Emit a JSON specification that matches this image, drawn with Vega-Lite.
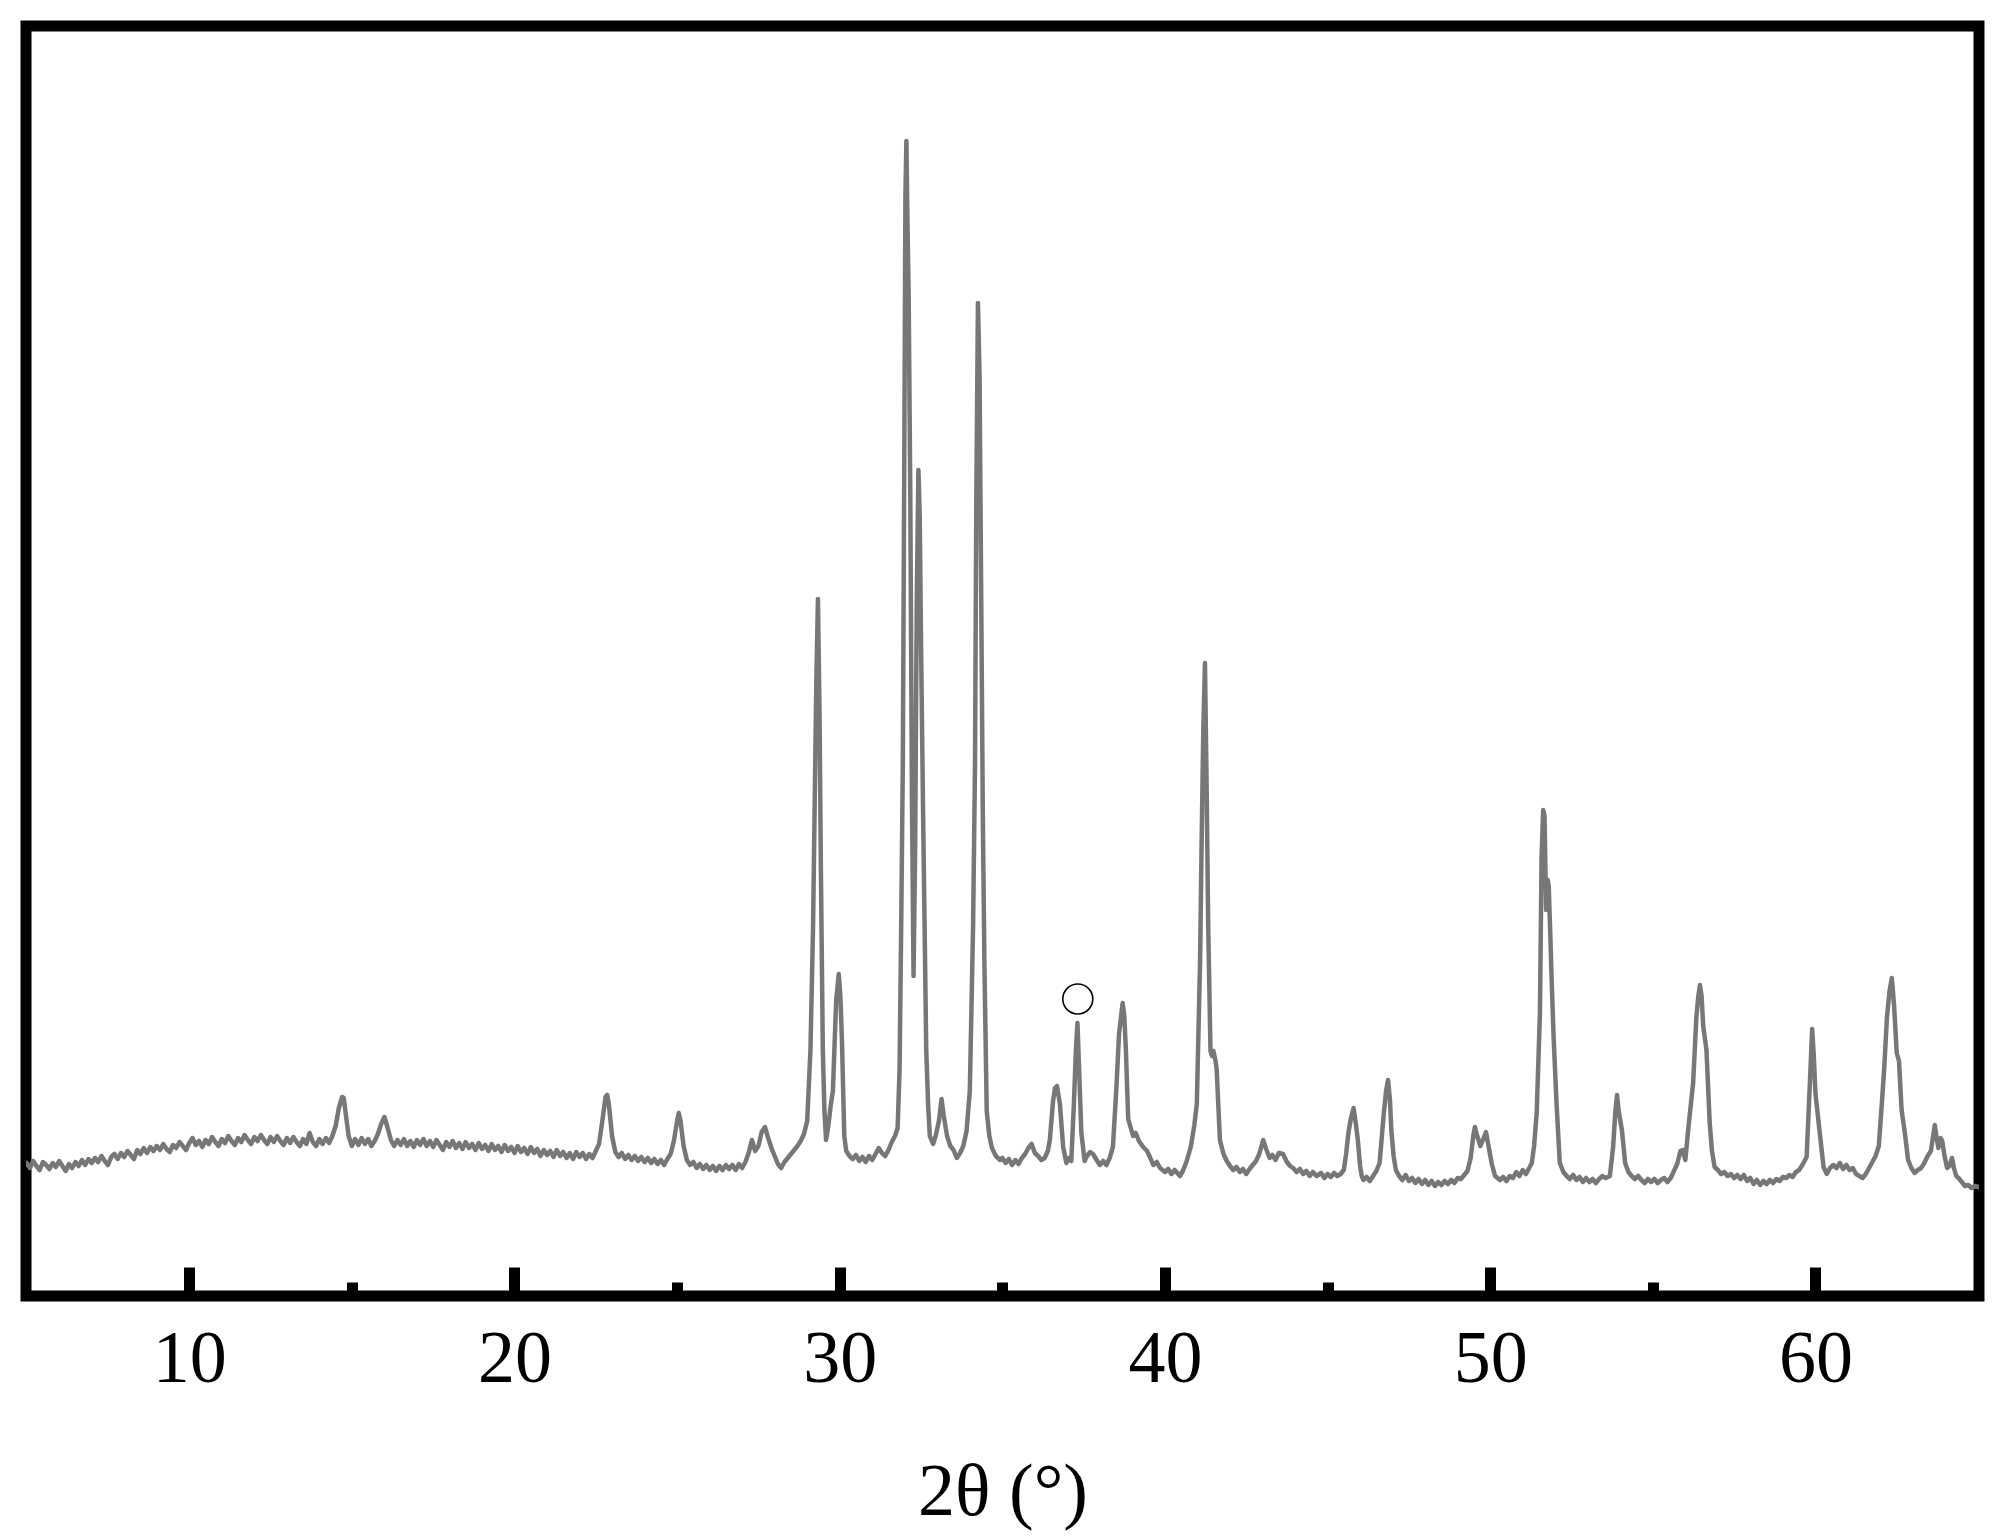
{
  "$schema": "https://vega.github.io/schema/vega-lite/v6.json",
  "autosize": {"type": "none"},
  "padding": {"left": 26, "top": 26, "right": 29, "bottom": 243},
  "width": 1953,
  "height": 1270,
  "background": "white",
  "config": {"view": {"stroke": "black", "strokeWidth": 11}},
  "datasets": {
    "xrd": [
{"t":5.0,"i":133},{"t":5.1,"i":128},{"t":5.2,"i":135},{"t":5.3,"i":130},{"t":5.4,"i":126},{"t":5.5,"i":134},{"t":5.6,"i":131},{"t":5.7,"i":127},{"t":5.8,"i":133},{"t":5.9,"i":129},
{"t":6.0,"i":135},{"t":6.1,"i":130},{"t":6.2,"i":125},{"t":6.3,"i":132},{"t":6.4,"i":128},{"t":6.5,"i":134},{"t":6.6,"i":130},{"t":6.7,"i":136},{"t":6.8,"i":131},{"t":6.9,"i":137},
{"t":7.0,"i":133},{"t":7.1,"i":138},{"t":7.2,"i":134},{"t":7.3,"i":140},{"t":7.4,"i":135},{"t":7.5,"i":131},{"t":7.6,"i":139},{"t":7.7,"i":142},{"t":7.8,"i":137},{"t":7.9,"i":143},
{"t":8.0,"i":139},{"t":8.1,"i":145},{"t":8.2,"i":141},{"t":8.3,"i":137},{"t":8.4,"i":146},{"t":8.5,"i":142},{"t":8.6,"i":148},{"t":8.7,"i":143},{"t":8.8,"i":149},{"t":8.9,"i":145},
{"t":9.0,"i":150},{"t":9.1,"i":146},{"t":9.2,"i":152},{"t":9.3,"i":147},{"t":9.4,"i":144},{"t":9.5,"i":151},{"t":9.6,"i":148},{"t":9.7,"i":154},{"t":9.8,"i":150},{"t":9.9,"i":146},
{"t":10.0,"i":153},{"t":10.1,"i":158},{"t":10.2,"i":151},{"t":10.3,"i":155},{"t":10.4,"i":149},{"t":10.5,"i":156},{"t":10.6,"i":152},{"t":10.7,"i":159},{"t":10.8,"i":154},{"t":10.9,"i":150},
{"t":11.0,"i":157},{"t":11.1,"i":153},{"t":11.2,"i":160},{"t":11.3,"i":155},{"t":11.4,"i":151},{"t":11.5,"i":158},{"t":11.6,"i":154},{"t":11.7,"i":161},{"t":11.8,"i":156},{"t":11.9,"i":152},
{"t":12.0,"i":159},{"t":12.1,"i":155},{"t":12.2,"i":161},{"t":12.3,"i":156},{"t":12.4,"i":152},{"t":12.5,"i":159},{"t":12.6,"i":154},{"t":12.7,"i":160},{"t":12.8,"i":155},{"t":12.9,"i":151},
{"t":13.0,"i":158},{"t":13.1,"i":153},{"t":13.2,"i":159},{"t":13.3,"i":154},{"t":13.4,"i":150},{"t":13.5,"i":157},{"t":13.6,"i":152},{"t":13.7,"i":163},{"t":13.8,"i":154},{"t":13.9,"i":150},
{"t":14.0,"i":157},{"t":14.1,"i":152},{"t":14.2,"i":158},{"t":14.3,"i":153},{"t":14.4,"i":160},{"t":14.5,"i":170},{"t":14.6,"i":188},{"t":14.7,"i":199},{"t":14.75,"i":198},{"t":14.8,"i":185},{"t":14.9,"i":160},
{"t":15.0,"i":150},{"t":15.1,"i":157},{"t":15.2,"i":151},{"t":15.3,"i":158},{"t":15.4,"i":152},{"t":15.5,"i":157},{"t":15.6,"i":150},{"t":15.7,"i":155},{"t":15.8,"i":162},{"t":15.9,"i":172},
{"t":16.0,"i":179},{"t":16.1,"i":168},{"t":16.2,"i":156},{"t":16.3,"i":150},{"t":16.4,"i":156},{"t":16.5,"i":151},{"t":16.6,"i":157},{"t":16.7,"i":150},{"t":16.8,"i":155},{"t":16.9,"i":149},
{"t":17.0,"i":156},{"t":17.1,"i":151},{"t":17.2,"i":157},{"t":17.3,"i":150},{"t":17.4,"i":155},{"t":17.5,"i":149},{"t":17.6,"i":156},{"t":17.7,"i":151},{"t":17.8,"i":146},{"t":17.9,"i":154},
{"t":18.0,"i":149},{"t":18.1,"i":155},{"t":18.2,"i":148},{"t":18.3,"i":153},{"t":18.4,"i":147},{"t":18.5,"i":154},{"t":18.6,"i":148},{"t":18.7,"i":152},{"t":18.8,"i":146},{"t":18.9,"i":153},
{"t":19.0,"i":147},{"t":19.1,"i":151},{"t":19.2,"i":145},{"t":19.3,"i":152},{"t":19.4,"i":146},{"t":19.5,"i":150},{"t":19.6,"i":144},{"t":19.7,"i":151},{"t":19.8,"i":145},{"t":19.9,"i":149},
{"t":20.0,"i":143},{"t":20.1,"i":150},{"t":20.2,"i":144},{"t":20.3,"i":148},{"t":20.4,"i":142},{"t":20.5,"i":149},{"t":20.6,"i":143},{"t":20.7,"i":147},{"t":20.8,"i":140},{"t":20.9,"i":146},
{"t":21.0,"i":141},{"t":21.1,"i":145},{"t":21.2,"i":139},{"t":21.3,"i":146},{"t":21.4,"i":140},{"t":21.5,"i":144},{"t":21.6,"i":138},{"t":21.7,"i":143},{"t":21.8,"i":137},{"t":21.9,"i":144},
{"t":22.0,"i":139},{"t":22.1,"i":143},{"t":22.2,"i":137},{"t":22.3,"i":142},{"t":22.4,"i":138},{"t":22.5,"i":145},{"t":22.6,"i":152},{"t":22.7,"i":175},{"t":22.8,"i":199},{"t":22.85,"i":201},{"t":22.9,"i":192},
{"t":23.0,"i":160},{"t":23.1,"i":144},{"t":23.2,"i":139},{"t":23.3,"i":143},{"t":23.4,"i":137},{"t":23.5,"i":141},{"t":23.6,"i":136},{"t":23.7,"i":140},{"t":23.8,"i":135},{"t":23.9,"i":139},
{"t":24.0,"i":134},{"t":24.1,"i":138},{"t":24.2,"i":133},{"t":24.3,"i":137},{"t":24.4,"i":132},{"t":24.5,"i":136},{"t":24.6,"i":131},{"t":24.7,"i":137},{"t":24.8,"i":142},{"t":24.9,"i":155},
{"t":25.0,"i":175},{"t":25.05,"i":183},{"t":25.1,"i":176},{"t":25.2,"i":150},{"t":25.3,"i":136},{"t":25.4,"i":131},{"t":25.5,"i":134},{"t":25.6,"i":128},{"t":25.7,"i":132},{"t":25.8,"i":127},{"t":25.9,"i":131},
{"t":26.0,"i":126},{"t":26.1,"i":130},{"t":26.2,"i":125},{"t":26.3,"i":130},{"t":26.4,"i":126},{"t":26.5,"i":131},{"t":26.6,"i":127},{"t":26.7,"i":131},{"t":26.8,"i":126},{"t":26.9,"i":132},
{"t":27.0,"i":128},{"t":27.1,"i":134},{"t":27.2,"i":143},{"t":27.3,"i":156},{"t":27.4,"i":145},{"t":27.5,"i":150},{"t":27.6,"i":164},{"t":27.7,"i":169},{"t":27.8,"i":158},{"t":27.9,"i":148},
{"t":28.0,"i":140},{"t":28.1,"i":132},{"t":28.2,"i":128},{"t":28.3,"i":134},{"t":28.4,"i":138},{"t":28.5,"i":142},{"t":28.6,"i":146},{"t":28.7,"i":150},{"t":28.8,"i":155},{"t":28.9,"i":162},
{"t":29.0,"i":175},{"t":29.1,"i":246},{"t":29.18,"i":369},{"t":29.23,"i":491},{"t":29.28,"i":614},{"t":29.33,"i":697},{"t":29.38,"i":581},{"t":29.42,"i":430},{"t":29.48,"i":246},{"t":29.53,"i":185},
{"t":29.58,"i":156},{"t":29.65,"i":170},{"t":29.72,"i":190},{"t":29.79,"i":205},{"t":29.89,"i":295},{"t":29.97,"i":322},{"t":30.02,"i":300},{"t":30.07,"i":254},{"t":30.14,"i":160},{"t":30.2,"i":145},
{"t":30.3,"i":140},{"t":30.4,"i":137},{"t":30.5,"i":141},{"t":30.6,"i":135},{"t":30.7,"i":139},{"t":30.8,"i":134},{"t":30.9,"i":140},{"t":31.0,"i":136},{"t":31.1,"i":142},{"t":31.2,"i":148},
{"t":31.3,"i":143},{"t":31.4,"i":140},{"t":31.5,"i":146},{"t":31.6,"i":154},{"t":31.7,"i":160},{"t":31.78,"i":168},{"t":31.84,"i":226},{"t":31.89,"i":369},{"t":31.94,"i":532},{"t":31.98,"i":800},
{"t":32.02,"i":1100},{"t":32.05,"i":1155},{"t":32.08,"i":1080},{"t":32.12,"i":1000},{"t":32.17,"i":800},{"t":32.22,"i":500},{"t":32.27,"i":320},{"t":32.32,"i":450},{"t":32.37,"i":700},{"t":32.42,"i":826},
{"t":32.46,"i":780},{"t":32.5,"i":654},{"t":32.56,"i":491},{"t":32.61,"i":369},{"t":32.66,"i":246},{"t":32.72,"i":190},{"t":32.77,"i":160},{"t":32.87,"i":152},{"t":32.95,"i":160},{"t":33.05,"i":175},
{"t":33.13,"i":197},{"t":33.2,"i":180},{"t":33.3,"i":160},{"t":33.4,"i":150},{"t":33.5,"i":146},{"t":33.6,"i":138},{"t":33.7,"i":143},{"t":33.8,"i":150},{"t":33.9,"i":165},{"t":34.0,"i":205},
{"t":34.1,"i":369},{"t":34.16,"i":532},{"t":34.2,"i":800},{"t":34.25,"i":993},{"t":34.3,"i":920},{"t":34.35,"i":700},{"t":34.4,"i":480},{"t":34.45,"i":330},{"t":34.52,"i":185},{"t":34.6,"i":160},
{"t":34.68,"i":148},{"t":34.8,"i":140},{"t":34.93,"i":136},{"t":35.0,"i":138},{"t":35.1,"i":133},{"t":35.2,"i":137},{"t":35.3,"i":131},{"t":35.4,"i":136},{"t":35.5,"i":132},{"t":35.6,"i":138},
{"t":35.7,"i":142},{"t":35.8,"i":148},{"t":35.9,"i":152},{"t":36.0,"i":143},{"t":36.1,"i":140},{"t":36.2,"i":136},{"t":36.3,"i":138},{"t":36.4,"i":145},{"t":36.46,"i":156},{"t":36.56,"i":195},
{"t":36.62,"i":208},{"t":36.68,"i":210},{"t":36.77,"i":192},{"t":36.87,"i":149},{"t":36.97,"i":133},{"t":37.05,"i":138},{"t":37.12,"i":135},{"t":37.2,"i":192},{"t":37.26,"i":245},{"t":37.31,"i":273},
{"t":37.36,"i":227},{"t":37.43,"i":163},{"t":37.53,"i":135},{"t":37.6,"i":140},{"t":37.7,"i":144},{"t":37.79,"i":142},{"t":37.9,"i":136},{"t":38.0,"i":131},{"t":38.1,"i":135},{"t":38.2,"i":131},
{"t":38.3,"i":138},{"t":38.4,"i":149},{"t":38.51,"i":210},{"t":38.59,"i":263},{"t":38.7,"i":293},{"t":38.75,"i":280},{"t":38.8,"i":245},{"t":38.87,"i":177},{"t":38.95,"i":168},{"t":39.02,"i":160},
{"t":39.1,"i":163},{"t":39.2,"i":155},{"t":39.33,"i":149},{"t":39.45,"i":145},{"t":39.55,"i":138},{"t":39.64,"i":131},{"t":39.75,"i":134},{"t":39.85,"i":128},{"t":40.0,"i":124},{"t":40.1,"i":127},
{"t":40.2,"i":122},{"t":40.3,"i":126},{"t":40.46,"i":120},{"t":40.55,"i":125},{"t":40.67,"i":135},{"t":40.8,"i":150},{"t":40.9,"i":170},{"t":40.98,"i":192},{"t":41.08,"i":335},{"t":41.13,"i":460},
{"t":41.18,"i":567},{"t":41.23,"i":633},{"t":41.28,"i":513},{"t":41.33,"i":371},{"t":41.4,"i":245},{"t":41.45,"i":240},{"t":41.49,"i":245},{"t":41.55,"i":236},{"t":41.59,"i":227},{"t":41.69,"i":156},
{"t":41.8,"i":142},{"t":41.9,"i":135},{"t":42.0,"i":130},{"t":42.1,"i":126},{"t":42.2,"i":129},{"t":42.3,"i":124},{"t":42.4,"i":127},{"t":42.5,"i":122},{"t":42.6,"i":127},{"t":42.7,"i":131},
{"t":42.8,"i":135},{"t":42.9,"i":142},{"t":43.02,"i":156},{"t":43.1,"i":148},{"t":43.22,"i":138},{"t":43.3,"i":141},{"t":43.4,"i":136},{"t":43.5,"i":143},{"t":43.63,"i":142},{"t":43.75,"i":134},
{"t":43.85,"i":130},{"t":43.94,"i":128},{"t":44.05,"i":124},{"t":44.15,"i":127},{"t":44.25,"i":122},{"t":44.35,"i":125},{"t":44.45,"i":120},{"t":44.55,"i":124},{"t":44.66,"i":120},{"t":44.8,"i":123},
{"t":44.9,"i":118},{"t":45.0,"i":122},{"t":45.1,"i":119},{"t":45.2,"i":123},{"t":45.3,"i":120},{"t":45.4,"i":122},{"t":45.5,"i":126},{"t":45.57,"i":142},{"t":45.64,"i":163},{"t":45.72,"i":178},
{"t":45.8,"i":188},{"t":45.87,"i":172},{"t":45.93,"i":156},{"t":46.0,"i":130},{"t":46.05,"i":120},{"t":46.1,"i":116},{"t":46.2,"i":119},{"t":46.3,"i":115},{"t":46.4,"i":120},{"t":46.5,"i":125},
{"t":46.6,"i":133},{"t":46.73,"i":183},{"t":46.8,"i":205},{"t":46.86,"i":216},{"t":46.92,"i":195},{"t":46.96,"i":166},{"t":47.03,"i":140},{"t":47.1,"i":126},{"t":47.2,"i":120},{"t":47.3,"i":116},
{"t":47.4,"i":121},{"t":47.5,"i":115},{"t":47.6,"i":118},{"t":47.7,"i":113},{"t":47.8,"i":117},{"t":47.9,"i":112},{"t":48.0,"i":116},{"t":48.1,"i":111},{"t":48.2,"i":115},{"t":48.3,"i":110},
{"t":48.4,"i":114},{"t":48.5,"i":111},{"t":48.6,"i":115},{"t":48.7,"i":112},{"t":48.8,"i":116},{"t":48.9,"i":113},{"t":49.0,"i":118},{"t":49.1,"i":117},{"t":49.2,"i":121},{"t":49.3,"i":125},
{"t":49.4,"i":138},{"t":49.48,"i":160},{"t":49.53,"i":169},{"t":49.6,"i":160},{"t":49.7,"i":150},{"t":49.8,"i":158},{"t":49.87,"i":164},{"t":49.95,"i":150},{"t":50.05,"i":132},{"t":50.15,"i":120},
{"t":50.3,"i":116},{"t":50.4,"i":119},{"t":50.5,"i":115},{"t":50.6,"i":120},{"t":50.7,"i":118},{"t":50.8,"i":124},{"t":50.9,"i":120},{"t":51.0,"i":126},{"t":51.1,"i":122},{"t":51.2,"i":128},
{"t":51.28,"i":133},{"t":51.35,"i":150},{"t":51.43,"i":183},{"t":51.53,"i":283},{"t":51.58,"i":439},{"t":51.63,"i":486},{"t":51.67,"i":480},{"t":51.72,"i":386},{"t":51.77,"i":416},{"t":51.8,"i":410},
{"t":51.85,"i":360},{"t":51.89,"i":316},{"t":51.95,"i":259},{"t":52.04,"i":193},{"t":52.14,"i":133},{"t":52.25,"i":124},{"t":52.35,"i":120},{"t":52.45,"i":117},{"t":52.55,"i":121},{"t":52.65,"i":116},
{"t":52.75,"i":119},{"t":52.85,"i":114},{"t":52.95,"i":118},{"t":53.05,"i":114},{"t":53.15,"i":117},{"t":53.25,"i":113},{"t":53.35,"i":117},{"t":53.45,"i":120},{"t":53.55,"i":118},{"t":53.68,"i":120},
{"t":53.78,"i":149},{"t":53.85,"i":185},{"t":53.9,"i":201},{"t":53.95,"i":185},{"t":54.05,"i":166},{"t":54.15,"i":133},{"t":54.25,"i":124},{"t":54.35,"i":120},{"t":54.45,"i":117},{"t":54.55,"i":120},
{"t":54.65,"i":116},{"t":54.75,"i":113},{"t":54.85,"i":117},{"t":54.95,"i":114},{"t":55.05,"i":117},{"t":55.15,"i":113},{"t":55.25,"i":116},{"t":55.35,"i":118},{"t":55.45,"i":114},{"t":55.55,"i":118},
{"t":55.65,"i":125},{"t":55.75,"i":132},{"t":55.85,"i":145},{"t":55.92,"i":146},{"t":56.0,"i":136},{"t":56.1,"i":170},{"t":56.24,"i":213},{"t":56.34,"i":279},{"t":56.4,"i":300},{"t":56.45,"i":311},
{"t":56.5,"i":300},{"t":56.55,"i":270},{"t":56.65,"i":246},{"t":56.75,"i":173},{"t":56.82,"i":145},{"t":56.9,"i":129},{"t":57.0,"i":126},{"t":57.1,"i":122},{"t":57.2,"i":124},{"t":57.3,"i":120},
{"t":57.4,"i":122},{"t":57.5,"i":118},{"t":57.6,"i":121},{"t":57.7,"i":117},{"t":57.8,"i":121},{"t":57.9,"i":115},{"t":58.0,"i":118},{"t":58.1,"i":112},{"t":58.2,"i":116},{"t":58.3,"i":111},
{"t":58.4,"i":115},{"t":58.5,"i":112},{"t":58.6,"i":116},{"t":58.7,"i":113},{"t":58.8,"i":117},{"t":58.9,"i":115},{"t":59.0,"i":119},{"t":59.1,"i":118},{"t":59.2,"i":121},{"t":59.3,"i":119},
{"t":59.4,"i":124},{"t":59.5,"i":126},{"t":59.6,"i":131},{"t":59.73,"i":139},{"t":59.83,"i":213},{"t":59.9,"i":267},{"t":59.95,"i":240},{"t":60.0,"i":203},{"t":60.1,"i":173},{"t":60.25,"i":129},
{"t":60.35,"i":122},{"t":60.45,"i":128},{"t":60.55,"i":131},{"t":60.65,"i":128},{"t":60.75,"i":133},{"t":60.85,"i":127},{"t":60.95,"i":131},{"t":61.05,"i":126},{"t":61.15,"i":128},{"t":61.25,"i":122},
{"t":61.35,"i":120},{"t":61.45,"i":118},{"t":61.55,"i":122},{"t":61.65,"i":128},{"t":61.75,"i":134},{"t":61.85,"i":140},{"t":61.95,"i":150},{"t":62.05,"i":196},{"t":62.12,"i":230},{"t":62.2,"i":279},
{"t":62.28,"i":305},{"t":62.35,"i":318},{"t":62.42,"i":290},{"t":62.5,"i":243},{"t":62.57,"i":235},{"t":62.65,"i":186},{"t":62.75,"i":163},{"t":62.85,"i":136},{"t":62.95,"i":128},{"t":63.05,"i":123},
{"t":63.15,"i":126},{"t":63.25,"i":128},{"t":63.35,"i":133},{"t":63.45,"i":140},{"t":63.55,"i":145},{"t":63.62,"i":160},{"t":63.67,"i":171},{"t":63.72,"i":160},{"t":63.78,"i":148},{"t":63.85,"i":158},
{"t":63.9,"i":155},{"t":63.97,"i":140},{"t":64.05,"i":128},{"t":64.12,"i":130},{"t":64.2,"i":138},{"t":64.26,"i":128},{"t":64.33,"i":120},{"t":64.4,"i":118},{"t":64.5,"i":114},{"t":64.6,"i":110},
{"t":64.7,"i":111},{"t":64.8,"i":108},{"t":64.9,"i":110},{"t":65.0,"i":109}
    ],
    "marker": [{"t": 37.32, "i": 297}]
  },
  "layer": [
    {
      "data": {"name": "xrd"},
      "mark": {"type": "line", "color": "#777777", "strokeWidth": 4.5, "strokeJoin": "round", "strokeCap": "round", "clip": true},
      "encoding": {
        "x": {
          "field": "t", "type": "quantitative",
          "scale": {"domain": [4.98, 65.03], "nice": false, "zero": false},
          "axis": {
            "title": "2θ (°)",
            "values": [10, 15, 20, 25, 30, 35, 40, 45, 50, 55, 60],
            "labelExpr": "datum.value % 10 === 0 ? datum.label : ''",
            "grid": false,
            "domain": false,
            "ticks": true,
            "tickColor": "black",
            "tickWidth": 11,
            "tickSize": {"expr": "datum.value % 10 === 0 ? -29 : -14"},
            "labelFont": "Liberation Serif",
            "labelFontSize": 74,
            "labelColor": "black",
            "labelPadding": 56,
            "labelFlush": false,
            "labelOverlap": false,
            "titleFont": "Liberation Serif",
            "titleFontSize": 74,
            "titleFontWeight": "normal",
            "titleColor": "black",
            "titlePadding": 45
          }
        },
        "y": {
          "field": "i", "type": "quantitative",
          "scale": {"domain": [0, 1270], "nice": false, "zero": true},
          "axis": null
        }
      }
    },
    {
      "data": {"name": "marker"},
      "mark": {"type": "point", "shape": "circle", "filled": false, "color": "black", "strokeWidth": 1.6, "size": 900, "opacity": 1},
      "encoding": {
        "x": {"field": "t", "type": "quantitative"},
        "y": {"field": "i", "type": "quantitative"}
      }
    }
  ]
}
